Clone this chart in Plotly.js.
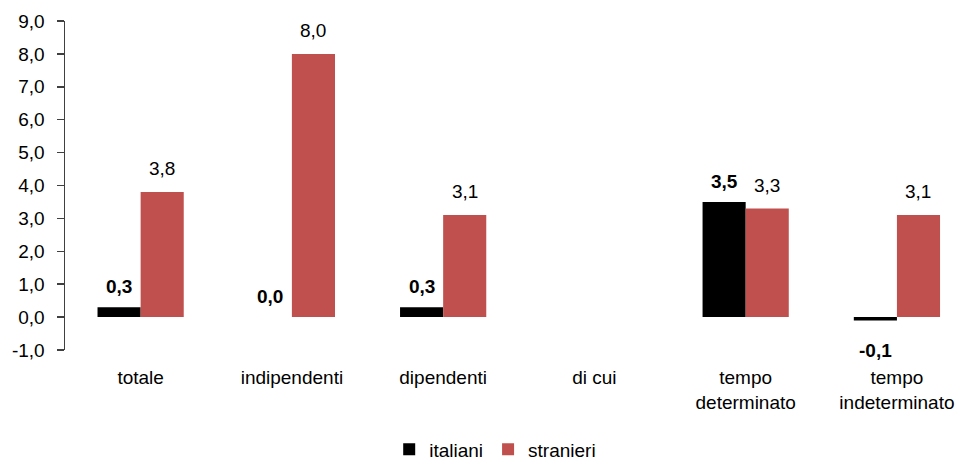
<!DOCTYPE html>
<html>
<head>
<meta charset="utf-8">
<script src="https://cdn.plot.ly/plotly-3.0.1.min.js"></script>
<style>
  html, body { margin: 0; padding: 0; background: #ffffff; }
  #chart { width: 965px; height: 463px; }
</style>
</head>
<body>
<div id="chart"></div>
<script>
// Variazioni percentuali per categoria
const categories = ['totale', 'indipendenti', 'dipendenti', 'di cui', 'tempo<br>determinato', 'tempo<br>indeterminato'];
const italiani = [0.3, 0.0, 0.3, null, 3.5, -0.1];
const stranieri = [3.8, 8.0, 3.1, null, 3.3, 3.1];
const yTicks = [-1, 0, 1, 2, 3, 4, 5, 6, 7, 8, 9];

const FONT = '"Liberation Sans", Arial, sans-serif';
const FS = 19;
const BARGAP = 0.43;
const idx = categories.map((_, i) => i);
const fmt = v => v.toFixed(1).replace('.', ',');

const traces = [
  {
    type: 'bar', name: 'italiani', x: idx, y: italiani,
    marker: { color: '#000000' }, hoverinfo: 'skip'
  },
  {
    type: 'bar', name: 'stranieri', x: idx, y: stranieri,
    marker: { color: '#C0504D' }, hoverinfo: 'skip'
  }
];

// Value labels placed at each bar end
const half = (1 - BARGAP) / 4;
const annotations = [];
function addLabels(values, dx, bold, lift) {
  values.forEach((v, i) => {
    if (v === null) return;
    const neg = v < 0;
    annotations.push({
      x: i + dx, y: v, xref: 'x', yref: 'y',
      text: bold ? '<b>' + fmt(v) + '</b>' : fmt(v),
      showarrow: false,
      xanchor: 'center',
      yanchor: neg ? 'top' : 'bottom',
      yshift: neg ? -18 : lift,
      font: { family: FONT, size: FS, color: '#000000' }
    });
  });
}
addLabels(italiani, -half, true, 8);
addLabels(stranieri, half, false, 11);

const xRange = [-0.5, 5.45];

const layout = {
  width: 965, height: 463,
  margin: { l: 65, r: 0, t: 21, b: 113, autoexpand: false },
  paper_bgcolor: '#ffffff', plot_bgcolor: '#ffffff',
  font: { family: FONT, size: FS, color: '#000000' },
  barmode: 'group', bargap: BARGAP, bargroupgap: 0,
  showlegend: true,
  legend: {
    orientation: 'h', x: 0.478, xanchor: 'center', y: -0.302, yanchor: 'middle',
    font: { family: FONT, size: FS, color: '#000000' },
    itemwidth: 30, tracegroupgap: 0
  },
  xaxis: {
    type: 'linear', range: xRange, fixedrange: true,
    tickmode: 'array', tickvals: idx, ticktext: categories,
    ticks: '', showline: false, showgrid: false, zeroline: false,
    ticklabelstandoff: 14,
    tickfont: { family: FONT, size: FS, color: '#000000' }
  },
  // horizontal axis line at zero with boundary tick marks
  xaxis2: {
    type: 'linear', range: xRange, overlaying: 'x', anchor: 'free', position: 0.1,
    tickmode: 'array', tickvals: [0.5, 1.5, 2.5, 3.5, 4.5],
    ticks: 'outside', ticklen: 5, tickwidth: 1.5, tickcolor: '#404040',
    showticklabels: false, showline: true, linecolor: '#404040', linewidth: 1.5,
    showgrid: false, zeroline: false, fixedrange: true
  },
  yaxis: {
    range: [-1, 9], fixedrange: true,
    tickmode: 'array', tickvals: yTicks, ticktext: yTicks.map(fmt),
    ticks: 'outside', ticklen: 7, tickwidth: 1.5, tickcolor: '#404040',
    showline: true, linecolor: '#404040', linewidth: 1.5,
    showgrid: false, zeroline: false,
    ticklabelstandoff: 8,
    tickfont: { family: FONT, size: FS, color: '#000000' }
  },
  annotations: annotations
};

Plotly.newPlot('chart', traces, layout, { displayModeBar: false, staticPlot: true });
</script>
</body>
</html>
